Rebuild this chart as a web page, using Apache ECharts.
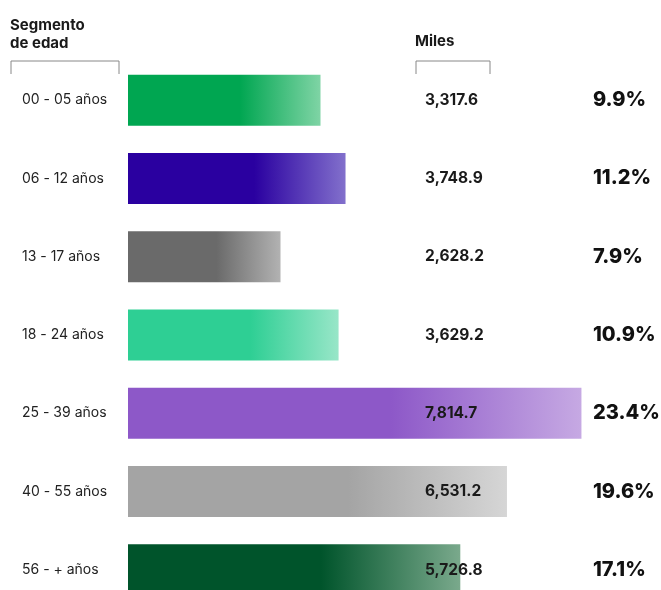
<!DOCTYPE html>
<html>
<head>
<meta charset="utf-8">
<script src="https://cdn.jsdelivr.net/npm/echarts@6/dist/echarts.min.js"></script>
<style>
  html, body { margin: 0; padding: 0; background: #fff; }
  #main { width: 661px; height: 590px; }
</style>
</head>
<body>
<div id="main"></div>
<script>
// datos por segmento de edad
const categories = ['00 - 05 años', '06 - 12 años', '13 - 17 años', '18 - 24 años', '25 - 39 años', '40 - 55 años', '56 - + años'];
const miles = [3317.6, 3748.9, 2628.2, 3629.2, 7814.7, 6531.2, 5726.8];
const percents = [9.9, 11.2, 7.9, 10.9, 23.4, 19.6, 17.1];
// colores de cada barra: [solido, final claro]
const barColors = [
  ['#00a651', '#7fd4a5'],
  ['#2a00a0', '#8270cc'],
  ['#6a6a6a', '#b2b2b2'],
  ['#2ecf94', '#98e6c8'],
  ['#8d58c8', '#c6a9e3'],
  ['#a4a4a4', '#d6d6d6'],
  ['#00542b', '#7aa98c']
];

const chart = echarts.init(document.getElementById('main'), null, { renderer: 'canvas' });

const fontFam = 'Inter, "Noto Sans", sans-serif';

const fmt = v => v.toLocaleString('en-US', { minimumFractionDigits: 1, maximumFractionDigits: 1 });

const option = {
  backgroundColor: '#fff',
  animation: false,
  grid: { left: 128, top: 61, width: 470, height: 548, outerBoundsMode: 'none', containLabel: false },
  xAxis: {
    type: 'value', min: 0, max: 8100, show: false
  },
  yAxis: [
    {
      type: 'category', data: categories, inverse: true,
      axisLine: { show: false }, axisTick: { show: false },
      axisLabel: { align: 'left', margin: 106, color: '#222', fontSize: 14, fontFamily: fontFam }
    },
    {
      // columna de miles
      type: 'category', data: miles.map(fmt), inverse: true, position: 'left', offset: -297, z: 10,
      axisLine: { show: false }, axisTick: { show: false },
      axisLabel: { inside: true, margin: 0, color: '#1a1a1a', fontSize: 15.5, fontWeight: 'bold', fontFamily: fontFam }
    },
    {
      // columna de porcentaje
      type: 'category', data: percents.map(p => p.toFixed(1) + '%'), inverse: true, position: 'left', offset: -465, z: 10,
      axisLine: { show: false }, axisTick: { show: false },
      axisLabel: { inside: true, margin: 0, color: '#111', fontSize: 20, fontWeight: 800, fontFamily: fontFam, padding: [0, 0, 4, 0] }
    }
  ],
  series: [{
    type: 'bar',
    barWidth: 51,
    data: miles.map((v, i) => ({
      value: v,
      itemStyle: {
        color: new echarts.graphic.LinearGradient(0, 0, 1, 0, [
          { offset: 0, color: barColors[i][0] },
          { offset: 0.58, color: barColors[i][0] },
          { offset: 1, color: barColors[i][1] }
        ])
      }
    })),
    z: 1
  }],
  graphic: [
    { type: 'text', left: 10, top: 16, style: { text: 'Segmento\nde edad', font: 'bold 15px ' + fontFam, fill: '#1a1a1a', lineHeight: 18 } },
    { type: 'text', left: 415, top: 34, style: { text: 'Miles', font: 'bold 15px ' + fontFam, fill: '#1a1a1a' } },
    { type: 'polyline', shape: { points: [[11, 74], [11, 61], [119, 61], [119, 74]] }, style: { stroke: '#888', lineWidth: 1, fill: null } },
    { type: 'polyline', shape: { points: [[416, 74], [416, 61], [490, 61], [490, 74]] }, style: { stroke: '#888', lineWidth: 1, fill: null } }
  ]
};

chart.setOption(option);
</script>
</body>
</html>
